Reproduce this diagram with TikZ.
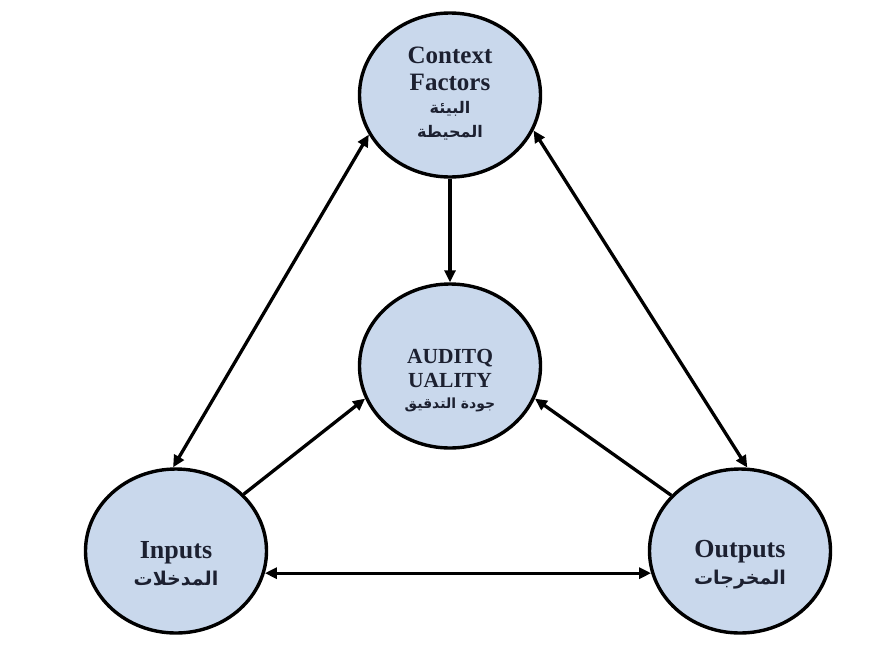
\documentclass[tikz,border=0pt]{standalone}
\usepackage{fontspec}
\setmainfont{Liberation Serif}
\newfontfamily\arabicfont[Script=Arabic]{DejaVu Sans}
\TeXXeTstate=1
\usetikzlibrary{shapes.geometric,arrows.meta}
\definecolor{bubble}{RGB}{201,216,236}
\definecolor{ink}{RGB}{28,32,48}
\tikzset{
  bubble/.style={ellipse, draw=black, line width=3.4pt, fill=bubble,
    minimum width=181pt, minimum height=164pt, inner sep=0pt},
  lbl/.style={text=ink, font=\bfseries, inner sep=0pt, anchor=base},
  link/.style={line width=3.3pt, -{Triangle[length=12pt,width=11pt]}},
  biling/.style={line width=3.3pt, {Triangle[length=12pt,width=11pt]}-{Triangle[length=12pt,width=11pt]}}
}
\newcommand{\arsz}[1]{\fontsize{#1}{#1}\arabicfont\bfseries}
\newcommand{\en}[2]{{\fontsize{#1}{#1}\selectfont #2}}
\begin{document}
\begin{tikzpicture}[x=1pt,y=-1pt]
\useasboundingbox (0,0) rectangle (885,659);
\fill[white] (0,0) rectangle (885,659);

\node[bubble] (ctx) at (450,95) {};
\node[bubble] (aud) at (450,366) {};
\node[bubble] (inp) at (176,551) {};
\node[bubble] (out) at (740,551) {};

\node[lbl] (ctx1) at (450,63) {\en{25}{Context}};
\node[lbl] (ctx2) at (450,90) {\en{25}{Factors}};
\node[lbl] (ctx3) at (450,113) {\arsz{16}\beginR البيئة\endR};
\node[lbl] (ctx4) at (450,137) {\arsz{16}\beginR المحيطة\endR};

\node[lbl] (aud1) at (450,363) {\en{21.5}{AUDITQ}};
\node[lbl] (aud2) at (450,387) {\en{21.5}{UALITY}};
\node[lbl] (aud3) at (450,408) {\arsz{14}\beginR جودة التدقيق\endR};

\node[lbl] (inp1) at (176,558) {\en{26}{Inputs}};
\node[lbl] (inp2) at (176,585) {\arsz{19}\beginR المدخلات\endR};

\node[lbl] (out1) at (740,557) {\en{26}{Outputs}};
\node[lbl] (out2) at (740,584) {\arsz{19}\beginR المخرجات\endR};

\draw[link] (ctx.south) -- (aud.north);
\draw[biling] (ctx.206.3) -- (inp.92.6);
\draw[biling] (ctx.337) -- (out.85.3);
\draw[link] (inp.40.5) -- (aud.201.1);
\draw[link] (out.141.5) -- (aud.339.8);
\draw[biling] (inp.-14) -- (out.194);
\end{tikzpicture}
\end{document}
